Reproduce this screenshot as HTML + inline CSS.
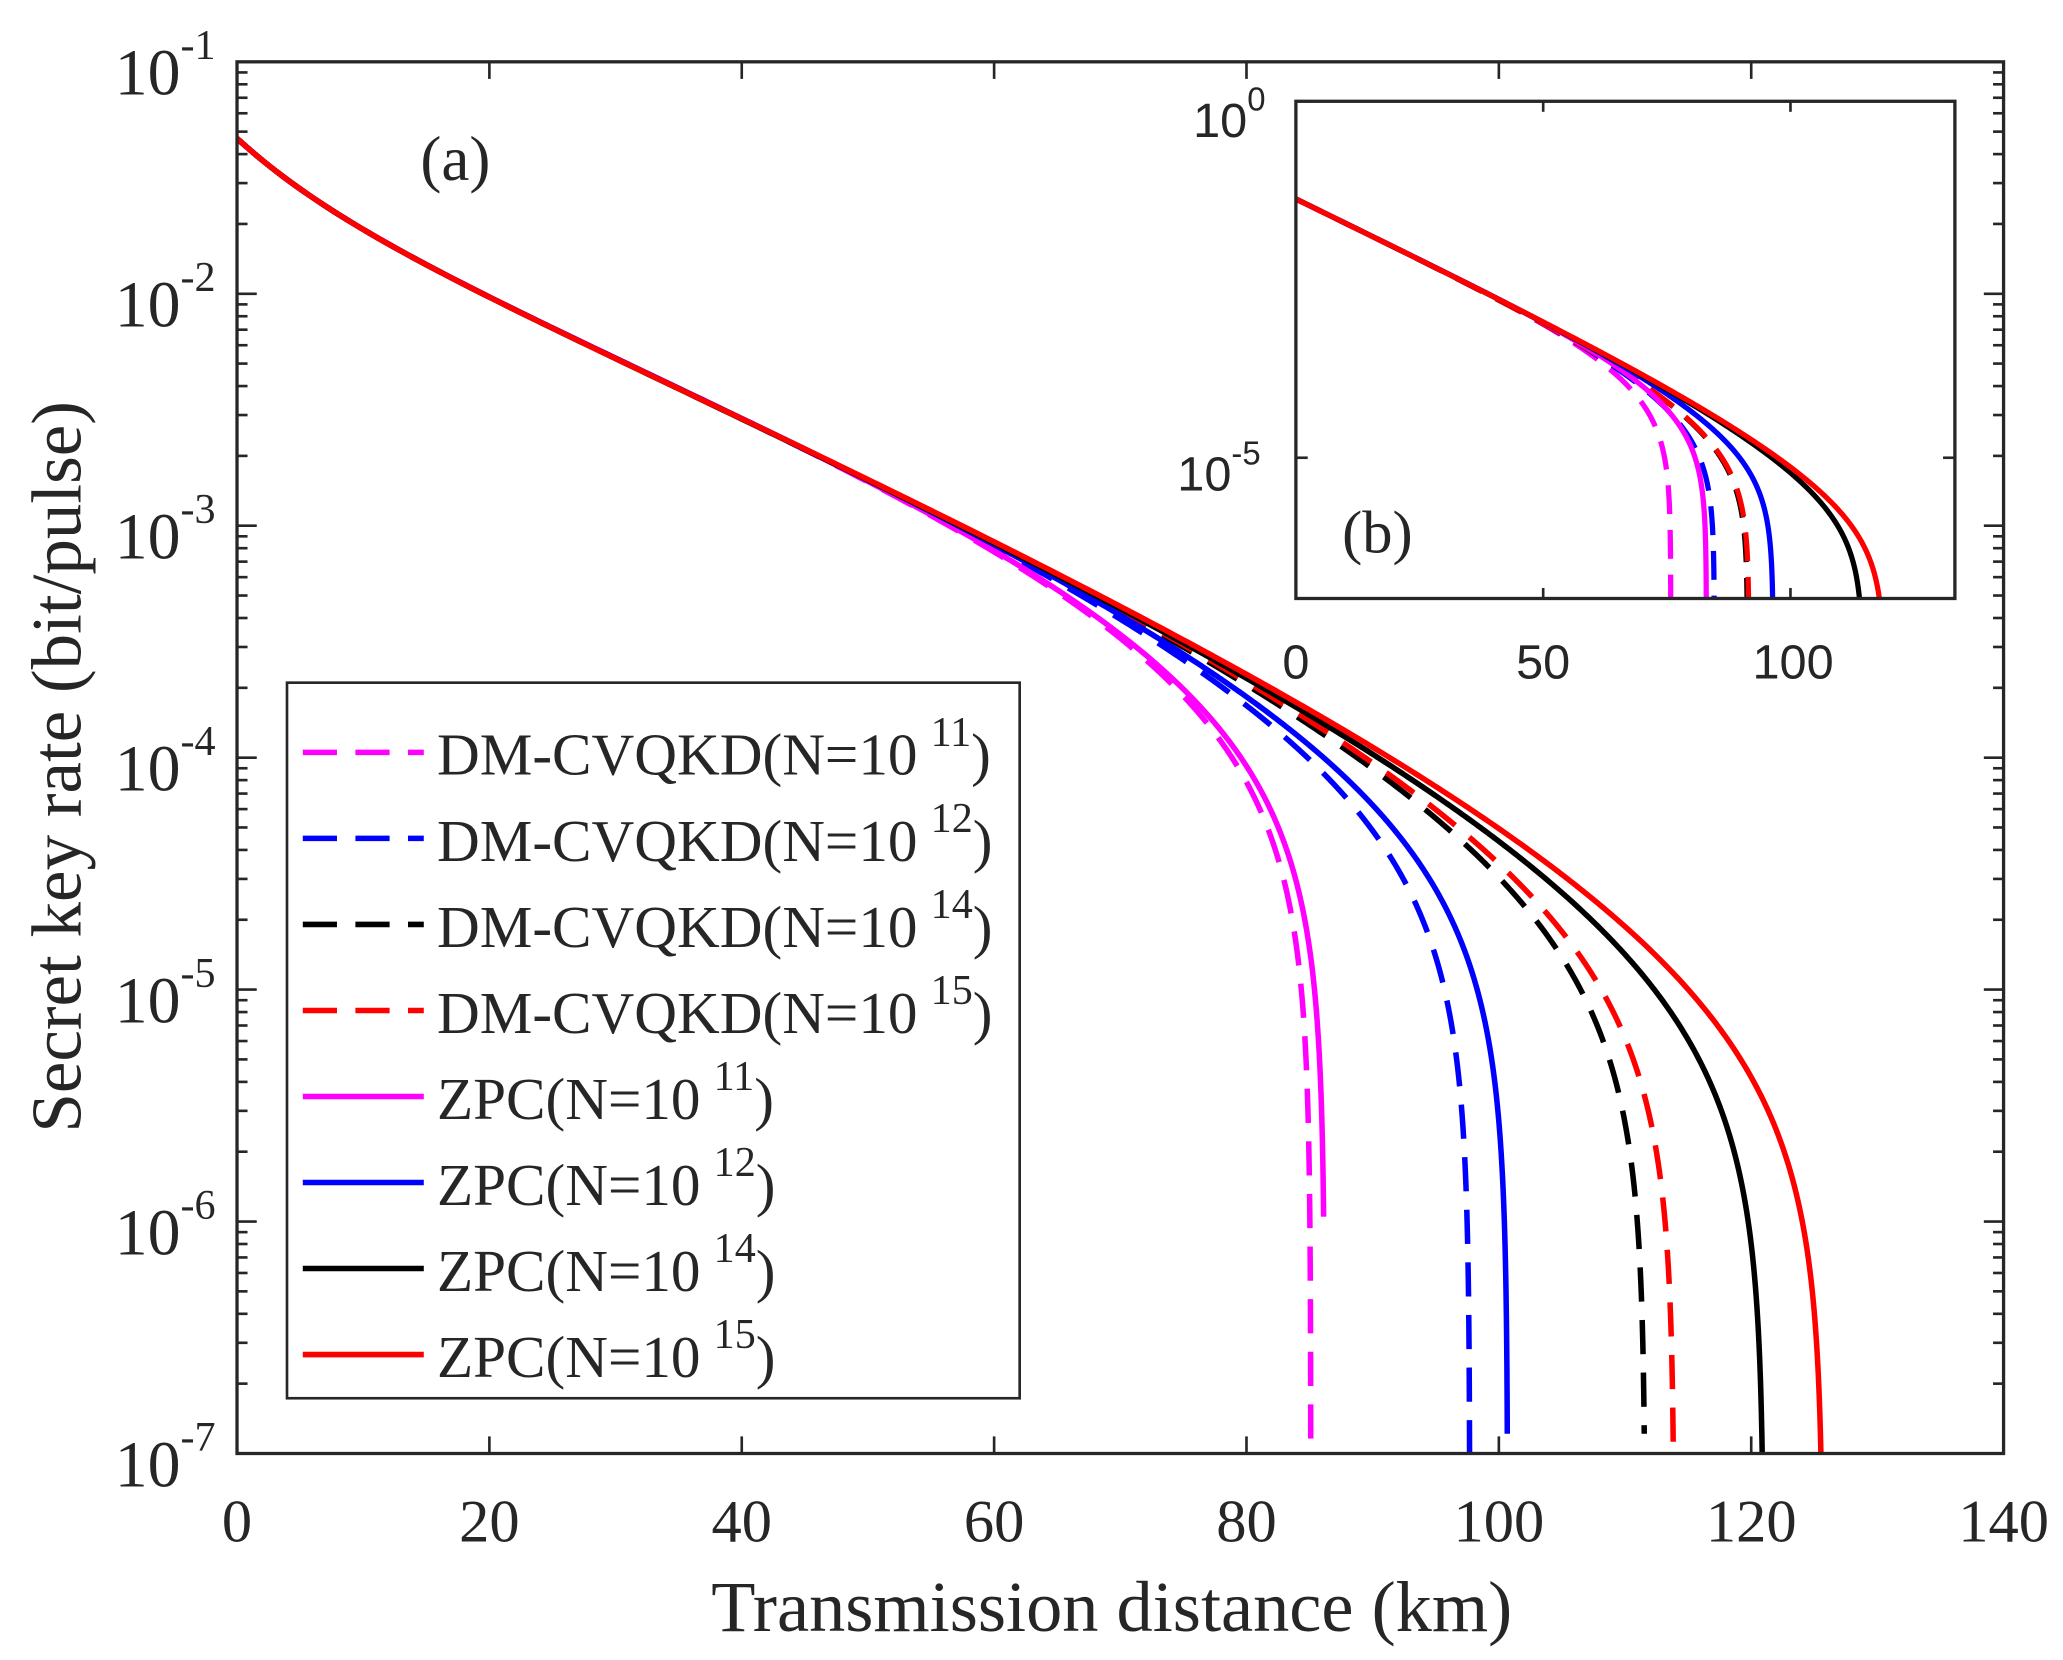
<!DOCTYPE html>
<html><head><meta charset="utf-8"><style>
html,body{margin:0;padding:0;background:#fff;}
svg{display:block;}
text{font-family:"Liberation Serif",serif;fill:#262626;}
.s{font-family:"Liberation Sans",sans-serif;}
</style></head><body>
<svg id="svg" width="2063" height="1660" viewBox="0 0 1568 1262" xmlns="http://www.w3.org/2000/svg">
<defs>
<clipPath id="cm"><rect x="180" y="47" width="1343" height="1058"/></clipPath>
<clipPath id="ci"><rect x="985" y="77" width="501" height="378"/></clipPath>
</defs>
<rect x="0" y="0" width="1568" height="1262" fill="#fff"/>
<g id="main" clip-path="url(#cm)"></g>
<g id="ticks" stroke="#262626" stroke-width="2" fill="none"></g>
<rect x="180" y="47" width="1343" height="1058" fill="none" stroke="#262626" stroke-width="2.5"/>
<g id="lab"></g>
<text x="346" y="137" font-size="48" text-anchor="middle">(a)</text>
<text x="845" y="1240" font-size="55" text-anchor="middle">Transmission distance (km)</text>
<text transform="translate(61,583) rotate(-90)" font-size="54" text-anchor="middle">Secret key rate (bit/pulse)</text>
<rect x="985" y="77" width="501" height="378" fill="#fff"/>
<g id="ins" clip-path="url(#ci)"></g>
<g id="iticks" stroke="#262626" stroke-width="2" fill="none"></g>
<rect x="985" y="77" width="501" height="378" fill="none" stroke="#262626" stroke-width="2.5"/>
<text class="s" x="985" y="516" font-size="37" text-anchor="middle">0</text>
<text class="s" x="1173" y="516" font-size="37" text-anchor="middle">50</text>
<text class="s" x="1363" y="516" font-size="37" text-anchor="middle">100</text>
<text class="s" x="948" y="104" font-size="37" text-anchor="end">10</text><text class="s" x="948" y="84" font-size="25">0</text>
<text class="s" x="936" y="373" font-size="37" text-anchor="end">10</text><text class="s" x="936" y="353" font-size="25">-5</text>
<text x="1047" y="420" font-size="46" text-anchor="middle">(b)</text>
<rect x="218" y="519" width="557" height="544" fill="#fff" stroke="#262626" stroke-width="2"/>
<g id="leg"></g>
</svg>
<script>
const NS="http://www.w3.org/2000/svg";
function el(t,a,p){const e=document.createElementNS(NS,t);for(const k in a)e.setAttribute(k,a[k]);p.appendChild(e);return e;}
const g=id=>document.getElementById(id);
const mx=d=>180+9.593*d, my=l=>47+176.33*(-1-l);
const ix=d=>985+3.76*d, iy=l=>77+54.2*(0-l);
const base=d=>-1.33-0.025*d-0.2*(1-Math.exp(-d/8));
const ibase=d=>-1.37-0.034*d;
const series=[
 {c:"#ff00ff",dash:true,D:85.1,p:5,ymax:1105,iD:75.8},
 {c:"#0000ff",dash:true,D:97.7,p:4.2,ymax:1105,iD:84.6},
 {c:"#000000",dash:true,D:111.6,p:3.6,ymax:1090,iD:91.3},
 {c:"#ff0000",dash:true,D:113.9,p:3.6,ymax:1105,iD:91.6},
 {c:"#ff00ff",dash:false,D:86.2,p:5,ymax:925,iD:83.0},
 {c:"#0000ff",dash:false,D:100.7,p:4.2,ymax:1090,iD:96.5},
 {c:"#000000",dash:false,D:121.0,p:3.3,ymax:1105,iD:114.6},
 {c:"#ff0000",dash:false,D:125.7,p:3.3,ymax:1105,iD:118.9},
];
function path(D,p,bf,X,Y,ymax){
 let pts=[];const N=700;
 for(let i=0;i<=N;i++){
  const t=i/N; const d=D*(1-Math.pow(1-t,3));
  const f=1-Math.pow(d/D,p); if(f<=0)break;
  let y=Y(bf(d)+Math.log10(f));
  if(y>ymax){y=ymax;pts.push([X(d),y]);break;}
  pts.push([X(d),y]);
 }
 return "M"+pts.map(q=>q[0].toFixed(2)+","+q[1].toFixed(2)).join("L");
}
for(const s of series){
 const a={d:path(s.D,s.p,base,mx,my,s.ymax),stroke:s.c,"stroke-width":4.2,fill:"none"};
 if(s.dash)a["stroke-dasharray"]="26,14";
 el("path",a,g("main"));
 const b={d:path(s.iD,s.p,ibase,ix,iy,455),stroke:s.c,"stroke-width":4,fill:"none"};
 if(s.dash)b["stroke-dasharray"]="22,12";
 el("path",b,g("ins"));
}
const T=g("ticks"),L=g("lab");
for(let k=0;k<=140;k+=20){
 const x=mx(k);
 el("line",{x1:x,y1:1105,x2:x,y2:1092},T);el("line",{x1:x,y1:47,x2:x,y2:60},T);
 const t=el("text",{x:x,y:1172,"font-size":46,"text-anchor":"middle"},L);t.textContent=k;
}
for(let e=-1;e>=-7;e--){
 const y=my(e);
 el("line",{x1:180,y1:y,x2:195,y2:y},T);el("line",{x1:1523,y1:y,x2:1508,y2:y},T);
 const t=el("text",{x:137,y:y+25,"font-size":50,"text-anchor":"end"},L);t.textContent="10";
 const s=el("text",{x:137,y:y-2,"font-size":32},L);s.textContent=String(e);
 if(e>-7)for(let m=2;m<=9;m++){
  const yy=my(e-1+Math.log10(m));
  el("line",{x1:180,y1:yy,x2:188,y2:yy},T);el("line",{x1:1523,y1:yy,x2:1515,y2:yy},T);
 }
}
const IT=g("iticks");
for(const k of [0,50,100]){const x=ix(k);el("line",{x1:x,y1:455,x2:x,y2:447},IT);el("line",{x1:x,y1:77,x2:x,y2:85},IT);}
for(const e of [0,-5]){const y=iy(e);el("line",{x1:985,y1:y,x2:994,y2:y},IT);el("line",{x1:1486,y1:y,x2:1477,y2:y},IT);}
const names=["DM-CVQKD(N=10","DM-CVQKD(N=10","DM-CVQKD(N=10","DM-CVQKD(N=10","ZPC(N=10","ZPC(N=10","ZPC(N=10","ZPC(N=10"];
const ex=["11","12","14","15","11","12","14","15"];
const LG=g("leg");
series.forEach((s,i)=>{
 const y=572+65.4*i;
 const a={x1:230,y1:y,x2:322,y2:y,stroke:s.c,"stroke-width":4.2};
 if(s.dash)a["stroke-dasharray"]="26,14";
 el("line",a,LG);
 const t=el("text",{x:332,y:y+17,"font-size":45},LG);
 const t1=document.createElementNS(NS,"tspan");t1.textContent=names[i];t.appendChild(t1);
 const t2=document.createElementNS(NS,"tspan");t2.setAttribute("dx","10");t2.setAttribute("dy","-22");t2.setAttribute("font-size","32");t2.textContent=ex[i];t.appendChild(t2);
 const t3=document.createElementNS(NS,"tspan");t3.setAttribute("dy","22");t3.textContent=")";t.appendChild(t3);
});
</script>
</body></html>
